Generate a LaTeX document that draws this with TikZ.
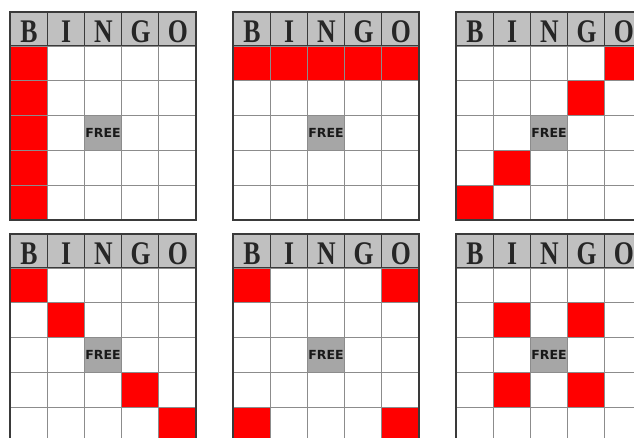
\documentclass[tikz,border=0pt]{standalone}
\usepackage{fontspec}
\setmainfont{Liberation Serif}
\newfontfamily\hdrfont{Liberation Serif}[FakeStretch=0.78]
\newfontfamily\freefont{DejaVu Sans Bold}
\definecolor{bingored}{HTML}{FF0000}
\definecolor{hdrgray}{HTML}{C0C0C0}
\definecolor{freegray}{HTML}{A6A6A6}
\definecolor{gridgray}{HTML}{8C8C8C}
\definecolor{bordergray}{HTML}{3A3A3A}
\tikzset{
  cell/.style={draw=gridgray, line width=0.8pt, fill=white, minimum width=37.2pt, minimum height=34.8pt, inner sep=0pt, outer sep=0pt},
  hit/.style={cell, fill=bingored},
  freecell/.style={cell, fill=freegray, font=\freefont\fontsize{12.5}{12.5}\selectfont, text=black!90},
  hdr/.style={draw=bordergray, line width=1.2pt, fill=hdrgray, minimum width=37.2pt, minimum height=34pt, inner sep=0pt, outer sep=0pt},
  letter/.style={font=\hdrfont\bfseries\fontsize{33}{33}\selectfont, text=black!85, inner sep=0pt},
  cardborder/.style={draw=bordergray, line width=1.4pt}
}
\newcommand\bingocard[4]{%
  \begin{scope}[shift={(#2,#3)}]
    \foreach \c/\L in {1/B,2/I,3/N,4/G,5/O}{
      \node[hdr] (#1-h\c) at ({(\c-0.5)*37.2},17) {};
      \node[letter] (#1-l\c) at ([shift={(0.4pt,-2.4pt)}]#1-h\c.center) {\L};
    }
    \foreach \r in {1,...,5}{
      \foreach \c in {1,...,5}{
        \node[cell] (#1-\r-\c) at ({(\c-0.5)*37.2},{34+(\r-0.5)*34.8}) {};
      }
    }
    \node[freecell] (#1-free) at (#1-3-3) {FREE};
    \foreach \r/\c in {#4}{
      \node[hit] (#1-x\r-\c) at (#1-\r-\c) {};
    }
    \draw[cardborder] (#1-h1.north west) rectangle (#1-5-5.south east);
  \end{scope}}
\begin{document}
\begin{tikzpicture}[x=1pt,y=-1pt]
  \fill[white] (0,0) rectangle (634,437);
  \useasboundingbox (0,0) rectangle (634,437);
  \clip (0,0) rectangle (634,437);
  \bingocard{ca}{10}{12}{1/1,2/1,3/1,4/1,5/1}
  \bingocard{cb}{233}{12}{1/1,1/2,1/3,1/4,1/5}
  \bingocard{cc}{456}{12}{1/5,2/4,4/2,5/1}
  \bingocard{cd}{10}{234}{1/1,2/2,4/4,5/5}
  \bingocard{ce}{233}{234}{1/1,1/5,5/1,5/5}
  \bingocard{cf}{456}{234}{2/2,2/4,4/2,4/4}
\end{tikzpicture}
\end{document}
